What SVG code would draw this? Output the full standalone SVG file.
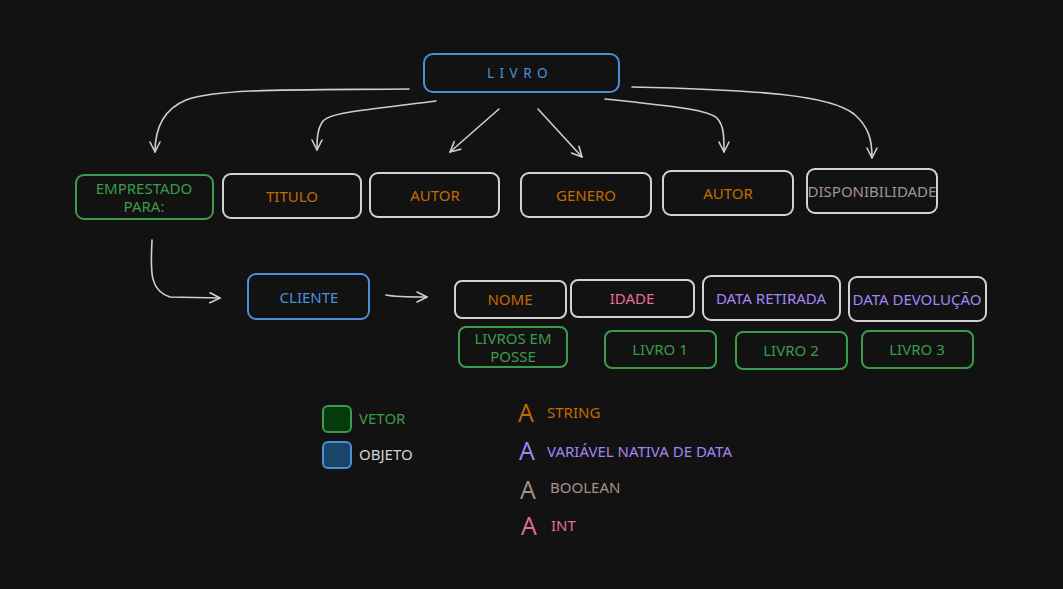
<svg xmlns="http://www.w3.org/2000/svg" width="1063" height="589" viewBox="0 0 1063 589">
<defs>
<style>
text{font-family:"Noto Sans","Open Sans","Liberation Sans",sans-serif;font-size:15px;text-anchor:middle;dominant-baseline:central}
.box{fill:none;stroke-width:2}
.w{stroke:#d3d3d3}
.b{stroke:#4a90d9}
.g{stroke:#3a9c4a}
.tw{fill:#c26b00}
.tb{fill:#4a90d9}
.tg{fill:#3a9c4a}
.tp{fill:#a585f5}
.tk{fill:#e36d9c}
.tr{fill:#a3928a}
.conn path{fill:none;stroke:#cfcfcf;stroke-width:1.6;stroke-linecap:round;stroke-linejoin:round}
.lg{text-anchor:start}
.ico{font-size:25px;font-family:"Open Sans","Noto Sans",sans-serif}
</style>
<marker id="ah" viewBox="0 0 12 12" refX="11" refY="6" markerWidth="12" markerHeight="12" markerUnits="userSpaceOnUse" orient="auto">
<path d="M1,1 L11,6 L1,11" fill="none" stroke="#cfcfcf" stroke-width="1.6" stroke-linecap="round" stroke-linejoin="round"/>
</marker>
</defs>
<rect width="1063" height="589" fill="#121212"/>
<g class="conn">
<path d="M409,89 C300,90 220,88 186,100 C162,110 155,130 155,152" marker-end="url(#ah)"/>
<path d="M436,101 C360,111 332,112 323,121 C317,129 317,140 317,150" marker-end="url(#ah)"/>
<path d="M499,109 L450,152" marker-end="url(#ah)"/>
<path d="M538,109 L582,157" marker-end="url(#ah)"/>
<path d="M605,99 C680,107 708,110 717,118 C724,126 724,136 724,152" marker-end="url(#ah)"/>
<path d="M632,87 C760,90 830,95 854,114 C869,127 872,140 872,158" marker-end="url(#ah)"/>
<path d="M152,240 C151,268 148,290 170,297 L220,298" marker-end="url(#ah)"/>
<path d="M386,295 C395,297 410,297 427,297" marker-end="url(#ah)"/>
</g>
<g id="livro"><rect class="box b" x="424" y="54" width="195" height="38" rx="9"/><text class="tb" x="520" y="73" letter-spacing="5.5" style="font-size:13.5px">LIVRO</text></g>
<g id="emprestado"><rect class="box g" x="76" y="175" width="137" height="44" rx="8"/><text class="tg" x="144" y="188">EMPRESTADO</text><text class="tg" x="144" y="206">PARA:</text></g>
<g id="titulo"><rect class="box w" x="223" y="174" width="138" height="44" rx="8"/><text class="tw" x="292" y="196">TITULO</text></g>
<g id="autor1"><rect class="box w" x="370" y="173" width="129" height="44" rx="8"/><text class="tw" x="435" y="195">AUTOR</text></g>
<g id="genero"><rect class="box w" x="521" y="173" width="130" height="44" rx="8"/><text class="tw" x="586" y="195">GENERO</text></g>
<g id="autor2"><rect class="box w" x="663" y="171" width="130" height="44" rx="8"/><text class="tw" x="728" y="193">AUTOR</text></g>
<g id="disponibilidade"><rect class="box w" x="807" y="169" width="130" height="44" rx="8"/><text class="tr" x="872" y="191">DISPONIBILIDADE</text></g>
<g id="cliente"><rect class="box b" x="248" y="274" width="121" height="45" rx="8"/><text class="tb" x="309" y="297">CLIENTE</text></g>
<g id="nome"><rect class="box w" x="455" y="281" width="111" height="37" rx="7"/><text class="tw" x="510" y="299">NOME</text></g>
<g id="livrosemposse"><rect class="box g" x="459" y="327" width="108" height="40" rx="7"/><text class="tg" x="513" y="338">LIVROS EM</text><text class="tg" x="513" y="356">POSSE</text></g>
<g id="idade"><rect class="box w" x="571" y="280" width="123" height="37" rx="7"/><text class="tk" x="632" y="298">IDADE</text></g>
<g id="dataretirada"><rect class="box w" x="703" y="276" width="137" height="44" rx="8"/><text class="tp" x="771" y="298">DATA RETIRADA</text></g>
<g id="datadevolucao"><rect class="box w" x="849" y="277" width="137" height="44" rx="8"/><text class="tp" x="917" y="299">DATA DEVOLUÇÃO</text></g>
<g id="livro1"><rect class="box g" x="605" y="331" width="111" height="37" rx="7"/><text class="tg" x="660" y="349">LIVRO 1</text></g>
<g id="livro2"><rect class="box g" x="736" y="332" width="111" height="37" rx="7"/><text class="tg" x="791" y="350">LIVRO 2</text></g>
<g id="livro3"><rect class="box g" x="862" y="331" width="111" height="37" rx="7"/><text class="tg" x="917" y="349">LIVRO 3</text></g>
<g id="legend">
<rect x="323" y="406" width="28" height="26" rx="5" fill="#063a0e" stroke="#3a9c4a" stroke-width="2"/>
<text class="lg tg" x="359" y="418">VETOR</text>
<rect x="323" y="442" width="28" height="26" rx="5" fill="#1a4568" stroke="#4a90d9" stroke-width="2"/>
<text class="lg" x="359" y="454" fill="#d3d3d3">OBJETO</text>
<text class="ico tw" x="526" y="412">A</text>
<text class="lg tw" x="547" y="412">STRING</text>
<text class="ico tp" x="527" y="450">A</text>
<text class="lg tp" x="547" y="451">VARIÁVEL NATIVA DE DATA</text>
<text class="ico tr" x="528" y="489">A</text>
<text class="lg tr" x="550" y="487">BOOLEAN</text>
<text class="ico tk" x="529" y="525">A</text>
<text class="lg tk" x="551" y="525">INT</text>
</g>
</svg>
